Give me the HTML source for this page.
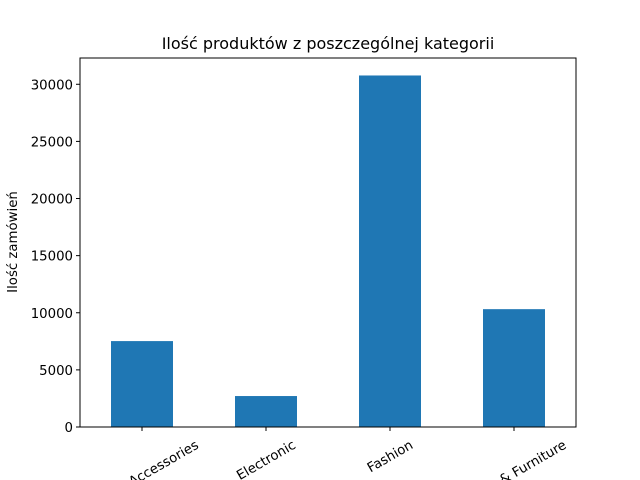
<!DOCTYPE html>
<html><head><meta charset="utf-8"><style>html,body{margin:0;background:#fff;overflow:hidden;width:640px;height:480px}svg{display:block;font-family:"DejaVu Sans","Liberation Sans",sans-serif;overflow:hidden}</style></head>
<body>
<svg id="chart" width="640" height="480" viewBox="0 0 640 480">
<text x="328" y="49" font-size="16" text-anchor="middle">Ilość produktów z poszczególnej kategorii</text>
<text transform="translate(17,242) rotate(-90)" font-size="13.3" text-anchor="middle">Ilość zamówień</text>
<g id="bars"></g><g id="axes"></g>
</svg>
<script>
const categories=["Auto & Accessories","Electronic","Fashion","Home & Furniture"];
const values=[7520,2710,30770,10315];
const yTicks=[0,5000,10000,15000,20000,25000,30000];
const ns="http://www.w3.org/2000/svg";
const L=80,R=576,T=58,B=427,ymax=32300;
const y=v=>B-(v/ymax)*(B-T);
const step=(R-L)/categories.length;
const x=i=>L+step*(i+0.5);
const svg=document.getElementById('chart');
function mk(t,a,p){const e=document.createElementNS(ns,t);for(const k in a)e.setAttribute(k,a[k]);(p||svg).appendChild(e);return e;}
const bars=document.getElementById('bars'),axes=document.getElementById('axes');
values.forEach((v,i)=>{const r=mk('rect',{x:x(i)-31,y:y(v),width:62,height:B-y(v),fill:'#1f77b4'},bars);


const tk=mk('line',{x1:x(i),x2:x(i),y1:B,y2:B+4,stroke:'#000'},axes);


const t=mk('text',{'font-size':13.3,'text-anchor':'middle'},axes);
t.textContent=categories[i];


const w=t.getComputedTextLength(),h=13;
const bh=w*0.5+h*0.866;
const cy=438+bh/2;
t.setAttribute('transform',`translate(${x(i)},${cy}) rotate(-30) translate(0,4.5)`);});
yTicks.forEach(v=>{const tk=mk('line',{x1:L-4,x2:L,y1:y(v),y2:y(v),stroke:'#000'},axes);


const t=mk('text',{x:L-7,y:y(v)+5,'font-size':13.3,'text-anchor':'end'},axes);t.textContent=v;

});
const f=mk('rect',{x:L,y:T,width:R-L,height:B-T,fill:'none',stroke:'#000','stroke-width':1},axes);


</script>
</body></html>
